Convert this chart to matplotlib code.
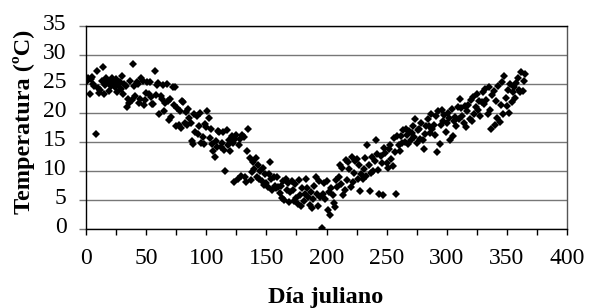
import matplotlib
matplotlib.use("Agg")
import matplotlib.pyplot as plt
from matplotlib.transforms import ScaledTranslation

# Estimated daily mean temperatures (ºC)
days = list(range(1, 366))
temps = [
    25.5, 26.0, 23.3, 25.8, 26.2, 25.0, 24.6, 16.3, 27.3, 24.3,
    23.5, 24.0, 25.5, 28.0, 23.2, 24.8, 26.0, 25.3, 23.8, 25.6,
    24.6, 26.0, 25.2, 24.4, 25.8, 23.6, 24.9, 25.4, 24.2, 26.4,
    23.2, 25.0, 24.7, 21.0, 22.5, 21.8, 25.6, 22.2, 28.5, 24.6,
    23.0, 25.3, 25.0, 21.7, 22.4, 26.0, 25.5, 21.4, 22.3, 23.5,
    25.4, 23.3, 25.3, 22.8, 21.5, 21.6, 27.2, 23.1, 24.8, 25.1,
    19.8, 22.9, 22.4, 24.9, 20.4, 21.7, 25.0, 22.0, 18.8, 22.4,
    19.3, 24.5, 21.3, 24.4, 17.7, 20.8, 18.0, 20.3, 17.5, 22.0,
    21.9, 18.2, 20.2, 17.9, 20.7, 19.1, 18.2, 15.2, 14.7, 19.8,
    16.7, 19.5, 16.4, 17.8, 20.0, 14.8, 15.9, 14.7, 18.1, 17.6,
    20.3, 19.2, 15.7, 17.3, 14.6, 13.5, 12.4, 15.1, 14.2, 16.9,
    16.8, 14.2, 14.9, 16.7, 13.7, 10.0, 17.0, 14.5, 15.4, 13.4,
    16.0, 14.8, 8.1, 15.5, 16.2, 8.6, 14.4, 15.6, 9.2, 16.2,
    15.8, 8.9, 8.1, 13.5, 17.3, 12.2, 8.4, 9.8, 11.5, 10.4,
    12.2, 9.0, 11.0, 8.7, 10.0, 8.3, 10.5, 7.6, 9.4, 8.0,
    7.2, 9.5, 11.5, 8.6, 6.8, 8.9, 7.5, 7.0, 9.0, 7.3,
    6.2, 7.5, 5.4, 8.2, 5.0, 8.7, 6.8, 7.9, 4.6, 6.3,
    8.2, 6.7, 4.8, 7.7, 5.4, 4.3, 8.4, 5.9, 3.9, 7.1,
    4.9, 6.0, 8.7, 7.0, 5.5, 4.2, 6.3, 3.6, 5.2, 7.5,
    9.0, 6.1, 4.0, 8.3, 5.5, 0.1, 6.0, 7.9, 5.1, 8.2,
    3.3, 6.4, 2.4, 7.1, 5.9, 4.4, 3.8, 8.5, 7.3, 9.0,
    11.0, 7.8, 10.5, 5.8, 6.7, 11.9, 8.5, 11.6, 10.4, 7.3,
    12.4, 8.1, 9.6, 11.8, 12.0, 8.7, 11.0, 6.6, 9.4, 8.6,
    10.3, 12.2, 9.1, 14.4, 11.1, 6.6, 9.6, 12.4, 10.0, 11.8,
    15.3, 13.0, 10.2, 6.0, 12.6, 11.4, 5.8, 14.0, 13.1, 11.3,
    10.6, 13.8, 14.4, 12.1, 10.8, 15.7, 13.3, 6.0, 16.1, 14.5,
    13.5, 16.0, 14.9, 17.1, 15.0, 17.3, 16.2, 14.7, 16.9, 15.4,
    16.5, 17.8, 15.9, 19.0, 14.8, 17.0, 17.3, 15.5, 18.2, 15.3,
    13.8, 16.4, 17.7, 18.9, 17.8, 16.6, 19.8, 17.2, 18.0, 16.2,
    19.5, 13.3, 20.3, 14.7, 17.9, 20.5, 18.6, 19.6, 16.8, 18.2,
    20.0, 19.1, 15.3, 20.7, 16.0, 18.7, 19.3, 17.7, 21.0, 18.9,
    22.4, 20.8, 19.4, 18.2, 21.2, 17.6, 20.3, 21.4, 19.0, 22.3,
    18.6, 22.8, 19.8, 21.1, 23.3, 20.6, 22.0, 19.4, 21.9, 23.6,
    21.6, 24.1, 22.3, 19.8, 24.4, 20.5, 17.2, 23.1, 23.8, 18.0,
    22.0, 19.2, 24.6, 18.5, 21.4, 25.3, 19.8, 26.4, 22.6, 21.2,
    23.9, 20.0, 25.0, 21.9, 23.6, 24.4, 22.6, 25.2, 26.1, 24.0,
    23.6, 27.0, 23.8, 25.5, 26.8,
]

x_ticks = [0, 50, 100, 150, 200, 250, 300, 350, 400]
y_ticks = [0, 5, 10, 15, 20, 25, 30, 35]
x_label = "Día juliano"
y_label = "Temperatura (ºC)"

plt.rcParams['font.family'] = ['Liberation Serif', 'DejaVu Serif']

W, H = 589, 308
fig = plt.figure(figsize=(W / 100, H / 100), dpi=100)
ax = fig.add_axes([86 / W, 1 - 229 / H, 481 / W, 203 / H])

ax.plot(days, temps, linestyle='none', marker='D', markersize=4.2,
        color='black', markeredgewidth=0, zorder=3)

ax.set_xlim(0, 400)
ax.set_ylim(0, 35)
ax.set_xticks(x_ticks)
ax.set_xticks([25 + 50 * i for i in range(8)], minor=True)
ax.set_yticks(y_ticks)

ax.grid(axis='y', color='#777777', linewidth=1.0, zorder=0)
ax.set_axisbelow(True)
for s in ax.spines.values():
    s.set_color('black')
    s.set_linewidth(1.0)
ax.spines['right'].set_color('#555555')

ax.tick_params(axis='x', which='both', direction='out', length=4, width=1,
               labelsize=17, pad=10)
ax.tick_params(axis='y', which='both', direction='out', length=5, width=1,
               color='#777777', labelsize=17, pad=9)
offset = ScaledTranslation(0, 4 / 100, fig.dpi_scale_trans)
for lbl in ax.get_yticklabels():
    lbl.set_transform(lbl.get_transform() + offset)

fig.text(24 / W, 1 - 122 / H, y_label, rotation=90, fontsize=17.5,
         fontweight='bold', ha='center', va='center')
fig.text(326 / W, 1 - 297 / H, x_label, fontsize=17.5, fontweight='bold',
         ha='center', va='center')

fig.savefig('out.png', dpi=100)
